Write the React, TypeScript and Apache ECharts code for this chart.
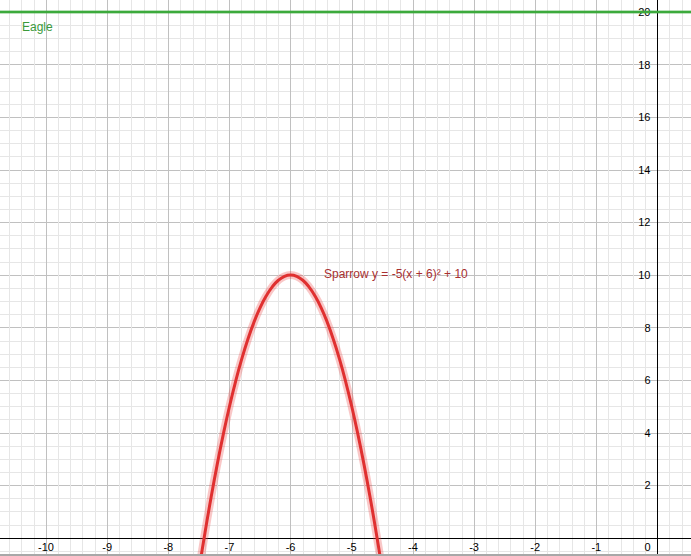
import React, { useEffect, useRef } from "react";
import * as echarts from "echarts";

const curveX = [-7.6, -7.5, -7.4, -7.3, -7.2, -7.1, -7.0, -6.9, -6.8, -6.7, -6.6, -6.5, -6.4, -6.3, -6.2, -6.1, -6.0, -5.9, -5.8, -5.7, -5.6, -5.5, -5.4, -5.3, -5.2, -5.1, -5.0, -4.9, -4.8, -4.7, -4.6, -4.5, -4.4];
const curveY = [-2.8, -1.25, 0.2, 1.55, 2.8, 3.95, 5, 5.95, 6.8, 7.55, 8.2, 8.75, 9.2, 9.55, 9.8, 9.95, 10, 9.95, 9.8, 9.55, 9.2, 8.75, 8.2, 7.55, 6.8, 5.95, 5, 3.95, 2.8, 1.55, 0.2, -1.25, -2.8];
const eagleX = [-11, 1];
const eagleY = [20, 20];
const xRange = [-11, 1];
const yRange = [-2, 22];

const FONT = "Liberation Sans, Arial, sans-serif";

export default function App() {
  const ref = useRef<HTMLDivElement>(null);
  useEffect(() => {
    if (!ref.current) return;
    const chart = echarts.init(ref.current, undefined, { renderer: "svg" });
    const sparrow = curveX.map((x, i) => [x, curveY[i]]);
    const eagle = eagleX.map((x, i) => [x, eagleY[i]]);
    chart.setOption({
      animation: false,
      backgroundColor: "#ffffff",
      grid: {
        left: -15.15,
        right: -27.65,
        top: -40.6,
        bottom: -34.6,
        containLabel: false,
        outerBoundsMode: "none",
      },
      xAxis: {
        type: "value",
        position: "bottom",
        offset: -52.6,
        min: xRange[0],
        max: xRange[1],
        interval: 1,
        axisLine: { show: true, onZero: false, lineStyle: { color: "#000", width: 1 } },
        axisTick: { show: false },
        minorTick: { show: false, splitNumber: 5 },
        splitLine: { show: true, lineStyle: { color: "#c0c0c0", width: 1, type: "solid" } },
        minorSplitLine: { show: true, lineStyle: { color: "#e6e6e6", width: 1, type: "solid" } },
        axisLabel: {
          margin: 3,
          fontSize: 11,
          fontFamily: FONT,
          color: "#000",
          showMinLabel: false,
          showMaxLabel: false,
          formatter: (v: number) => (v === 0 ? "{z|0}" : String(v)),
          rich: { z: { padding: [0, 20, 0, 0], fontSize: 11, fontFamily: FONT, color: "#000" } },
        },
      },
      yAxis: {
        type: "value",
        position: "right",
        offset: -61.15,
        min: yRange[0],
        max: yRange[1],
        interval: 2,
        axisLine: { show: true, onZero: false, lineStyle: { color: "#000", width: 1 } },
        axisTick: { show: false },
        minorTick: { show: false, splitNumber: 4 },
        splitLine: { show: true, lineStyle: { color: "#c0c0c0", width: 1, type: "solid" } },
        minorSplitLine: { show: true, lineStyle: { color: "#e6e6e6", width: 1, type: "solid" } },
        axisLabel: {
          inside: true,
          margin: 7,
          fontSize: 11,
          fontFamily: FONT,
          color: "#000",
          formatter: (v: number) => (v <= 0 || v > 20 ? "" : String(v)),
        },
      },
      series: [
        {
          type: "line",
          data: eagle,
          symbol: "none",
          lineStyle: { color: "rgba(60,170,60,0.35)", width: 4 },
          silent: true,
        },
        {
          type: "line",
          data: eagle,
          symbol: "none",
          lineStyle: { color: "#3caa3c", width: 2 },
          silent: true,
        },
        {
          type: "line",
          data: sparrow,
          smooth: true,
          symbol: "none",
          lineStyle: { color: "rgba(235,70,70,0.3)", width: 8 },
          silent: true,
        },
        {
          type: "line",
          data: sparrow,
          smooth: true,
          symbol: "none",
          lineStyle: { color: "#e03030", width: 3 },
          silent: true,
        },
      ],
      graphic: [
        {
          type: "text",
          left: 22,
          top: 21,
          z: 100,
          style: { text: "Eagle", fill: "#3a9a3a", font: `12px ${FONT}` },
        },
        {
          type: "text",
          left: 324,
          top: 268,
          z: 100,
          style: { text: "Sparrow y = -5(x + 6)² + 10", fill: "#a83030", font: `12px ${FONT}` },
        },
        {
          type: "rect",
          left: 0,
          top: 554,
          z: 100,
          shape: { width: 691, height: 2 },
          style: { fill: "#a8a8a8" },
        },
      ],
    });
    return () => chart.dispose();
  }, []);
  return (
    <div
      ref={ref}
      style={{ position: "fixed", left: 0, top: 0, width: 691, height: 556 }}
    />
  );
}
